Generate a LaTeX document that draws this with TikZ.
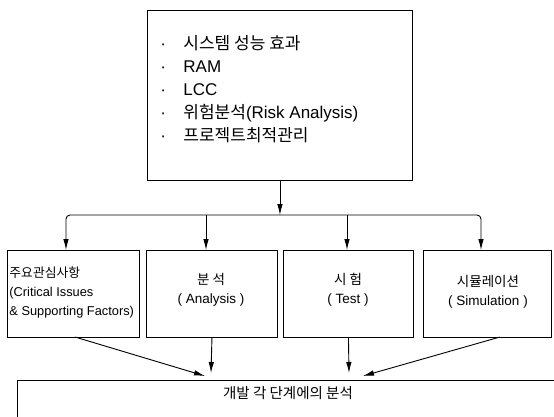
\documentclass[tikz,border=0pt]{standalone}
\usepackage{fontspec}
\setmainfont{Liberation Sans}
\newfontfamily\kr{Noto Sans CJK KR}
\usetikzlibrary{arrows.meta}
\begin{document}
\begin{tikzpicture}[x=1pt,y=-1pt,
  line width=0.9pt,
  box/.style={draw, anchor=north west, inner sep=0pt},
  arr/.style={-{Latex[length=11pt,width=5.5pt]}},
  smalltxt/.style={font=\fontsize{13.5}{19}\selectfont, align=center},
]
\useasboundingbox (0,0) rectangle (554,416);

% top box
\node[box, minimum width=265pt, minimum height=170pt] (top) at (147,10) {};
\node[anchor=west, align=left, inner sep=0pt, font=\fontsize{17}{23}\selectfont] (list) at (160,89.5)
 {\makebox[23pt][l]{·}{\kr 시스템 성능 효과}\\
  \makebox[23pt][l]{·}RAM\\
  \makebox[23pt][l]{·}LCC\\
  \makebox[23pt][l]{·}{\kr 위험분석}(Risk Analysis)\\
  \makebox[23pt][l]{·}{\kr 프로젝트최적관리}};

% lower boxes
\node[box, minimum width=132pt, minimum height=87pt] (b1) at (7,250) {};
\node[box, minimum width=131pt, minimum height=87pt] (b2) at (146,250) {};
\node[box, minimum width=130pt, minimum height=87pt] (b3) at (283,250) {};
\node[box, minimum width=128pt, minimum height=87pt] (b4) at (423,250) {};

\node[anchor=west, align=left, inner sep=0pt, font=\fontsize{12.8}{19}\selectfont] (t1) at (9,292)
 {{\kr 주요관심사항}\\(Critical Issues\\\& Supporting Factors)};
\node[smalltxt] (t2) at (211,290) {{\kr 분 석}\\( Analysis )};
\node[smalltxt] (t3) at (348,290) {{\kr 시 험}\\( Test )};
\node[smalltxt] (t4) at (488,292) {{\kr 시뮬레이션}\\( Simulation )};

% bottom box
\node[box, minimum width=560pt, minimum height=60pt] (bot) at (17,380) {};
\node[font=\fontsize{14.5}{16}\selectfont\kr] (bt) at (288,393) {개발 각 단계에의 분석};

% bus
\coordinate (bus) at (top.south |- 0,215);
\coordinate (d1) at (66,250);
\coordinate (d2) at (206,250);
\coordinate (d3) at (347,250);
\coordinate (d4) at (481,250);
\draw[arr] (top.south) -- (bus);
\draw[{Latex[length=11pt,width=5.5pt]}-{Latex[length=11pt,width=5.5pt]}, rounded corners=4pt] (d1) |- (bus) -| (d4);
\draw[arr] (d2 |- bus) -- (d2);
\draw[arr] (d3 |- bus) -- (d3);

% arrows into bottom box
\coordinate (s1) at (75,337);
\coordinate (s4) at (500,337);
\coordinate (e1) at (205,376);
\coordinate (e2) at (211,373);
\coordinate (e3) at (349,373);
\coordinate (e4) at (363,376);
\draw[arr] (s1) -- (e1);
\draw[arr] (b2.south) -- (e2);
\draw[arr] (b3.south) -- (e3);
\draw[arr] (s4) -- (e4);
\end{tikzpicture}
\end{document}
